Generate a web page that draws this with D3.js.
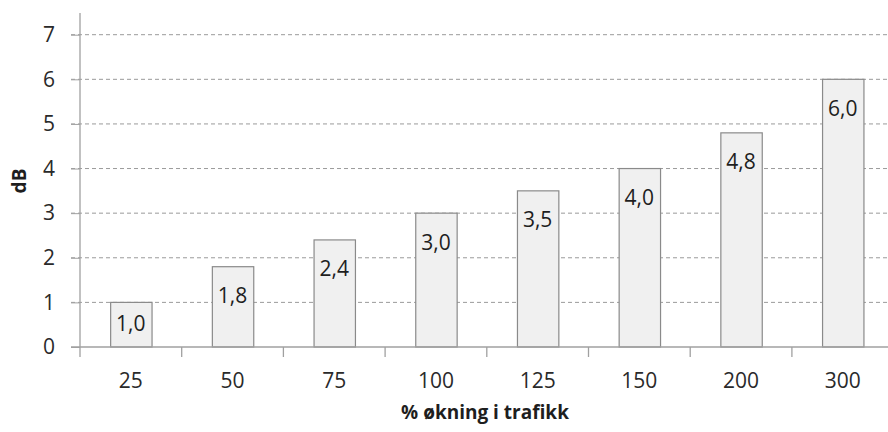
<!DOCTYPE html>
<html>
<head>
<meta charset="utf-8">
<script src="https://cdn.jsdelivr.net/npm/d3@7/dist/d3.min.js"></script>
<style>
  html, body { margin: 0; padding: 0; background: #fff; }
  svg { display: block; font-family: "Open Sans", "Noto Sans", sans-serif; }
</style>
</head>
<body>
<svg id="chart" width="888" height="432"></svg>
<script>
// Traffic increase (%) and the resulting noise level increase (dB)
const categories = ["25", "50", "75", "100", "125", "150", "200", "300"];
const values = [1.0, 1.8, 2.4, 3.0, 3.5, 4.0, 4.8, 6.0];
const yTicks = [0, 1, 2, 3, 4, 5, 6, 7];
const yTitle = "dB";
const xTitle = "% økning i trafikk";

const svg = d3.select("#chart");
const W = 888, H = 432;
const plot = { left: 80, right: 893.6, top: 13, bottom: 347 };

const x = d3.scaleBand()
  .domain(categories)
  .range([plot.left, plot.right])
  .paddingInner(0.593)
  .paddingOuter(0.2965);

const y = d3.scaleLinear()
  .domain([0, 7])
  .range([plot.bottom, 34.7]);

const fmt = v => v.toFixed(1).replace(".", ",");
const axisGrey = "#a0a0a0";
const textSize = "21px";

// dashed horizontal gridlines
svg.append("g")
  .selectAll("line")
  .data(yTicks.filter(d => d > 0))
  .join("line")
  .attr("x1", plot.left - 9)
  .attr("x2", W)
  .attr("y1", d => y(d))
  .attr("y2", d => y(d))
  .attr("stroke", "#9a9a9a")
  .attr("stroke-width", 1)
  .attr("stroke-dasharray", "4,3");

// bars
svg.append("g")
  .selectAll("rect")
  .data(values)
  .join("rect")
  .attr("x", (d, i) => x(categories[i]) + 0.5)
  .attr("y", d => y(d))
  .attr("width", x.bandwidth())
  .attr("height", d => y(0) - y(d))
  .attr("fill", "#f0f0f0")
  .attr("stroke", "#8a8a8a")
  .attr("stroke-width", 1.2);

// y axis: line, outward ticks and labels
const yAxis = d3.axisLeft(y).tickValues(yTicks).tickFormat(d3.format("d"))
  .tickSize(9).tickPadding(16);
const gy = svg.append("g")
  .attr("transform", `translate(${plot.left},0)`)
  .call(yAxis);
gy.select(".domain").remove();
gy.selectAll(".tick line").attr("stroke", axisGrey);
gy.selectAll(".tick text")
  .attr("fill", "#2a2a2a")
  .style("font-size", textSize)
  .style("font-family", "'Open Sans', sans-serif");
svg.append("line")
  .attr("x1", plot.left).attr("x2", plot.left)
  .attr("y1", plot.top).attr("y2", plot.bottom + 10)
  .attr("stroke", axisGrey).attr("stroke-width", 1.3);

// x axis baseline
svg.append("line")
  .attr("x1", plot.left - 9).attr("x2", W)
  .attr("y1", y(0)).attr("y2", y(0))
  .attr("stroke", axisGrey).attr("stroke-width", 1.3);

// category boundary ticks
const step = x.step();
svg.append("g")
  .selectAll("line")
  .data(d3.range(1, categories.length + 1))
  .join("line")
  .attr("x1", i => plot.left + i * step)
  .attr("x2", i => plot.left + i * step)
  .attr("y1", y(0))
  .attr("y2", y(0) + 10)
  .attr("stroke", axisGrey)
  .attr("stroke-width", 1.3);

// category labels
svg.append("g")
  .selectAll("text")
  .data(categories)
  .join("text")
  .attr("x", d => x(d) + x.bandwidth() / 2)
  .attr("y", 388)
  .attr("text-anchor", "middle")
  .attr("fill", "#2a2a2a")
  .style("font-size", textSize)
  .text(d => d);

// value labels inside the bar tops
svg.append("g")
  .selectAll("text")
  .data(values)
  .join("text")
  .attr("x", (d, i) => x(categories[i]) + x.bandwidth() / 2)
  .attr("y", d => {
    const top = y(d), mid = (y(d) + y(0)) / 2;
    return Math.min(top + 36.5, mid + 6);
  })
  .attr("text-anchor", "middle")
  .attr("fill", "#1e1e1e")
  .style("font-size", textSize)
  .text(d => fmt(d));

// axis titles
svg.append("text")
  .attr("transform", `translate(26,181) rotate(-90)`)
  .attr("text-anchor", "middle")
  .attr("fill", "#1e1e1e")
  .style("font-size", "19px")
  .style("font-weight", "bold")
  .text(yTitle);

svg.append("text")
  .attr("x", 485)
  .attr("y", 419)
  .attr("text-anchor", "middle")
  .attr("fill", "#1e1e1e")
  .style("font-size", "19px")
  .style("font-weight", "bold")
  .text(xTitle);
</script>
</body>
</html>
